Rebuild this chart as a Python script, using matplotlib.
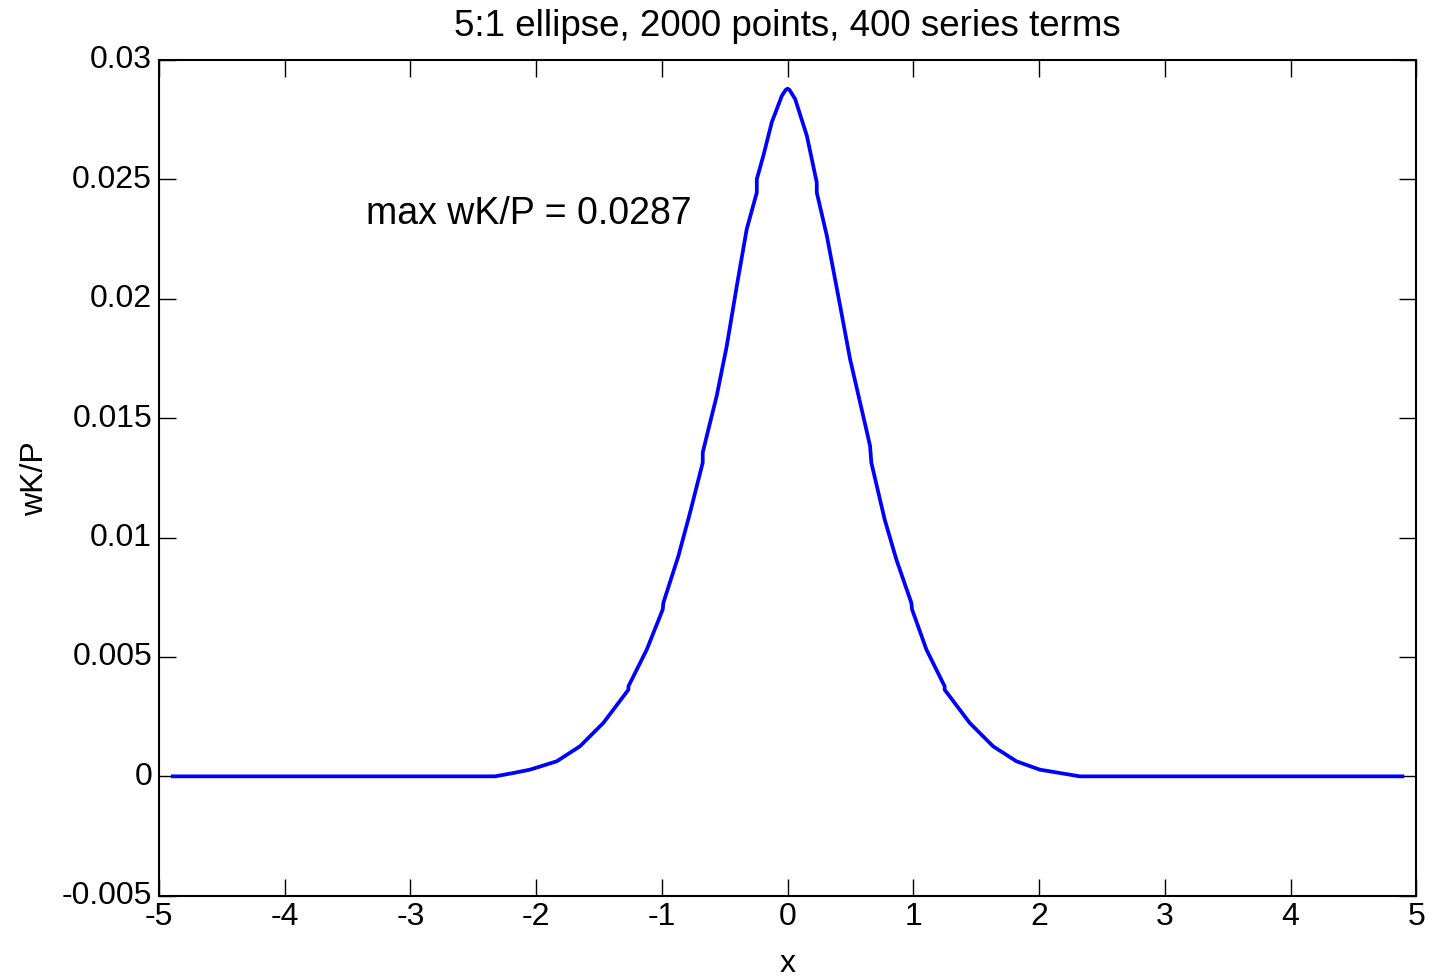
import matplotlib
matplotlib.use("Agg")
import matplotlib.pyplot as plt
import matplotlib.transforms as mtransforms

plt.rcParams['font.family'] = ['Liberation Sans', 'DejaVu Sans']

title = "5:1 ellipse, 2000 points, 400 series terms"
xlabel = "x"
ylabel = "wK/P"
annotation = "max wK/P = 0.0287"

x_vals = [-4.89, -2.327, -2.181, -2.049, -1.836, -1.651, -1.465, -1.266, -1.266,
          -1.120, -0.993, -0.988, -0.869, -0.776, -0.675, -0.675, -0.630, -0.564,
          -0.484, -0.404, -0.325, -0.245, -0.245, -0.193, -0.126, -0.046, -0.015,
          0.000, 0.015, 0.060, 0.153, 0.232, 0.232, 0.312, 0.418, 0.497, 0.626,
          0.656, 0.666, 0.772, 0.865, 0.984, 0.990, 1.104, 1.249, 1.249, 1.448,
          1.634, 1.820, 2.006, 2.165, 2.324, 4.89]
y_vals = [0.0, 0.0, 0.00014, 0.00028, 0.00063, 0.00126, 0.00224, 0.00363, 0.00377,
          0.00531, 0.00699, 0.00727, 0.00922, 0.01104, 0.01314, 0.01356, 0.01453,
          0.01593, 0.01802, 0.02054, 0.02292, 0.02445, 0.02501, 0.02599, 0.02739,
          0.02850, 0.02875, 0.02880, 0.02875, 0.02837, 0.02683, 0.02487, 0.02445,
          0.02264, 0.01970, 0.01747, 0.01453, 0.01383, 0.01314, 0.01076, 0.00908,
          0.00727, 0.00699, 0.00531, 0.00377, 0.00363, 0.00224, 0.00126, 0.00063,
          0.00028, 0.00014, 0.0, 0.0]

xticks = [-5, -4, -3, -2, -1, 0, 1, 2, 3, 4, 5]
xtick_labels = ["-5", "-4", "-3", "-2", "-1", "0", "1", "2", "3", "4", "5"]
yticks = [-0.005, 0, 0.005, 0.01, 0.015, 0.02, 0.025, 0.03]
ytick_labels = ["-0.005", "0", "0.005", "0.01", "0.015", "0.02", "0.025", "0.03"]

fig = plt.figure(figsize=(14.32, 9.78), dpi=100)
ax = fig.add_axes([0.111, 0.0831, 0.878, 0.8545])

ax.plot(x_vals, y_vals, color=(0, 0, 1), linewidth=2.7)

ax.set_xlim(-5, 5)
ax.set_ylim(-0.005, 0.03)
ax.set_xticks(xticks)
ax.set_xticklabels(xtick_labels)
ax.set_yticks(yticks)
ax.set_yticklabels(ytick_labels)
ax.tick_params(direction='in', length=12, width=1, labelsize=23,
               top=True, right=True, pad=5, colors='black')
ax.tick_params(axis='x', pad=4)
for s in ax.spines.values():
    s.set_linewidth(1.5)

offset = mtransforms.ScaledTranslation(0, 3 / 72, fig.dpi_scale_trans)
for lbl in ax.get_yticklabels():
    lbl.set_transform(lbl.get_transform() + offset)

ax.set_title(title, fontsize=26.5, pad=18)
ax.set_xlabel(xlabel, fontsize=23, labelpad=12)
ax.set_ylabel(ylabel, fontsize=23, labelpad=8)
ax.text(-3.35, 0.02359, annotation, fontsize=27, ha='left', va='center')

fig.savefig("out.png", dpi=100)
